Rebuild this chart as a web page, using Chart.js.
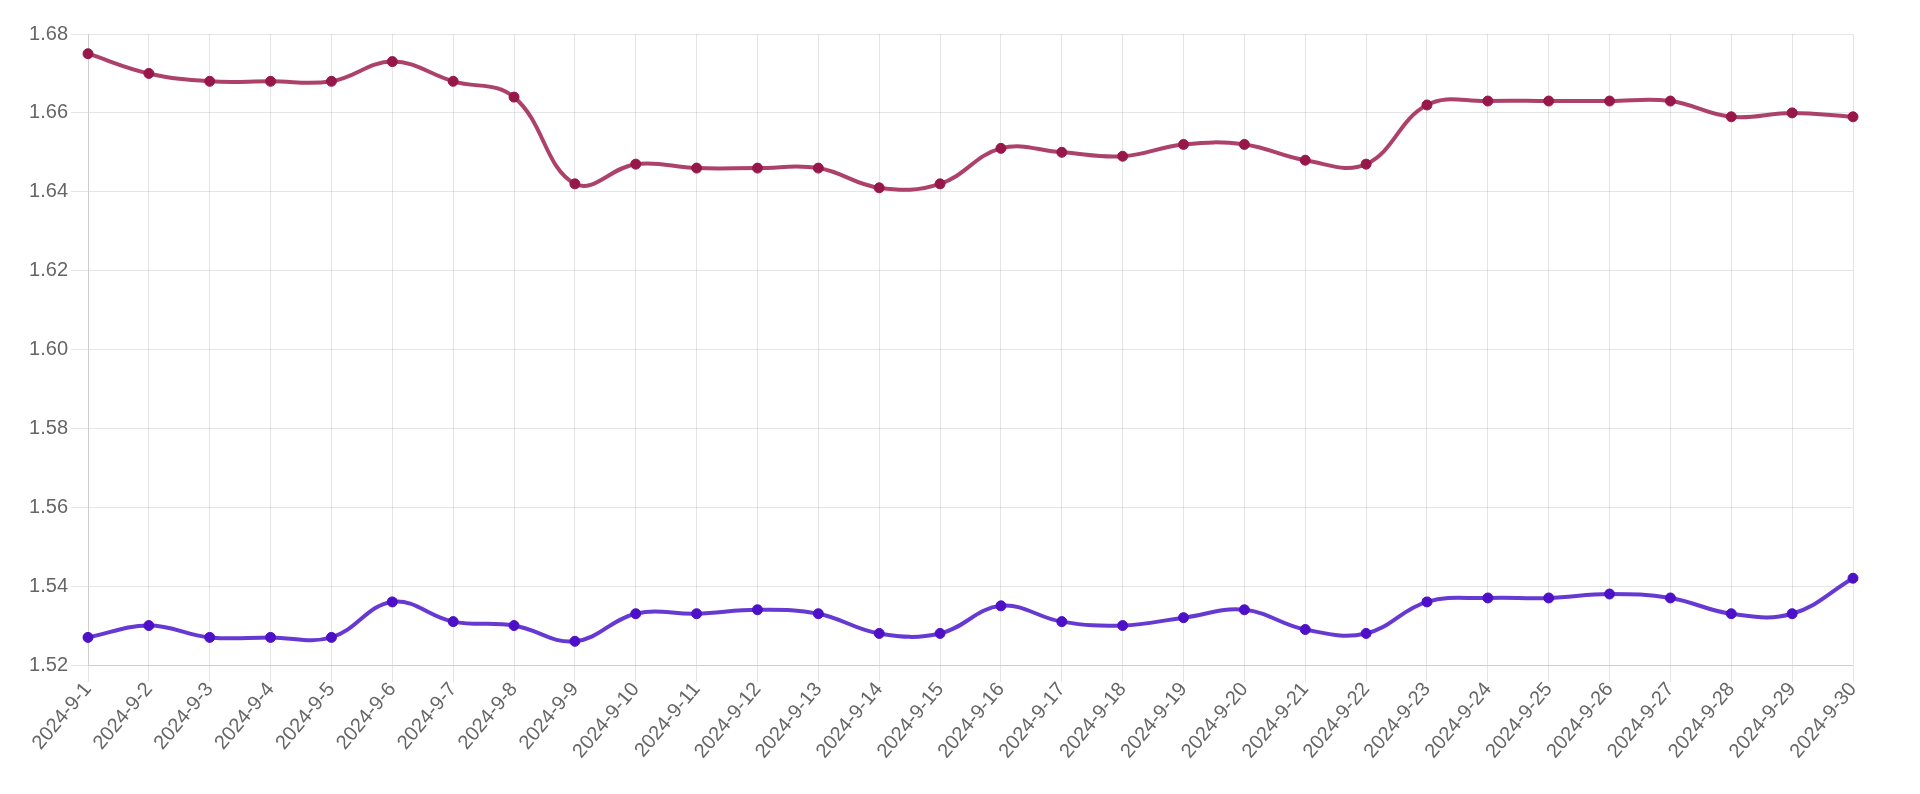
<!DOCTYPE html>
<html>
<head>
<meta charset="utf-8">
<script src="https://cdn.jsdelivr.net/npm/chart.js@4/dist/chart.umd.min.js"></script>
<style>
html,body{margin:0;padding:0;background:#fff;}
#wrap{width:1920px;height:794px;}
</style>
</head>
<body>
<div id="wrap"><canvas id="c" width="1920" height="794"></canvas></div>
<script>
const categories = ["2024-9-1","2024-9-2","2024-9-3","2024-9-4","2024-9-5","2024-9-6","2024-9-7","2024-9-8","2024-9-9","2024-9-10","2024-9-11","2024-9-12","2024-9-13","2024-9-14","2024-9-15","2024-9-16","2024-9-17","2024-9-18","2024-9-19","2024-9-20","2024-9-21","2024-9-22","2024-9-23","2024-9-24","2024-9-25","2024-9-26","2024-9-27","2024-9-28","2024-9-29","2024-9-30"];
const seriesHigh = [1.675,1.670,1.668,1.668,1.668,1.673,1.668,1.664,1.642,1.647,1.646,1.646,1.646,1.641,1.642,1.651,1.650,1.649,1.652,1.652,1.648,1.647,1.662,1.663,1.663,1.663,1.663,1.659,1.660,1.659];
const seriesLow = [1.527,1.530,1.527,1.527,1.527,1.536,1.531,1.530,1.526,1.533,1.533,1.534,1.533,1.528,1.528,1.535,1.531,1.530,1.532,1.534,1.529,1.528,1.536,1.537,1.537,1.538,1.537,1.533,1.533,1.542];
const yMin = 1.52, yMax = 1.68, yStep = 0.02;

const fontSpec = {family: "'Liberation Sans', Arial, Helvetica, sans-serif", size: 20};
new Chart(document.getElementById('c'), {
  type: 'line',
  data: {
    labels: categories,
    datasets: [
      {
        data: seriesHigh,
        borderColor: 'rgba(160,40,85,0.88)',
        backgroundColor: 'rgba(160,40,85,0.88)',
        pointBackgroundColor: '#97174a',
        pointBorderColor: '#97174a',
        borderWidth: 4,
        pointRadius: 5,
        pointBorderWidth: 1,
        tension: 0.4,
        fill: false
      },
      {
        data: seriesLow,
        borderColor: 'rgba(85,35,205,0.9)',
        backgroundColor: 'rgba(85,35,205,0.9)',
        pointBackgroundColor: '#4d10c8',
        pointBorderColor: '#4d10c8',
        borderWidth: 4,
        pointRadius: 5,
        pointBorderWidth: 1,
        tension: 0.4,
        fill: false
      }
    ]
  },
  options: {
    responsive: false,
    animation: false,
    layout: {padding: {top: 34, right: 67, left: 0, bottom: 0}},
    plugins: {legend: {display: false}, tooltip: {enabled: false}},
    scales: {
      x: {
        offset: false,
        grid: {color: 'rgba(0,0,0,0.1)', tickLength: 17, lineWidth: 1},
        border: {color: 'rgba(0,0,0,0.1)'},
        ticks: {color: '#666', font: fontSpec, minRotation: 50, maxRotation: 50, padding: -4, autoSkip: false},
        afterFit: (s) => { s.height = 129; }
      },
      y: {
        min: yMin, max: yMax,
        grid: {color: 'rgba(0,0,0,0.1)', tickLength: 17, lineWidth: 1},
        border: {color: 'rgba(0,0,0,0.1)'},
        ticks: {color: '#666', font: fontSpec, stepSize: yStep, padding: 3},
        afterFit: (s) => { s.width = 88; }
      }
    }
  }
});
</script>
</body>
</html>
